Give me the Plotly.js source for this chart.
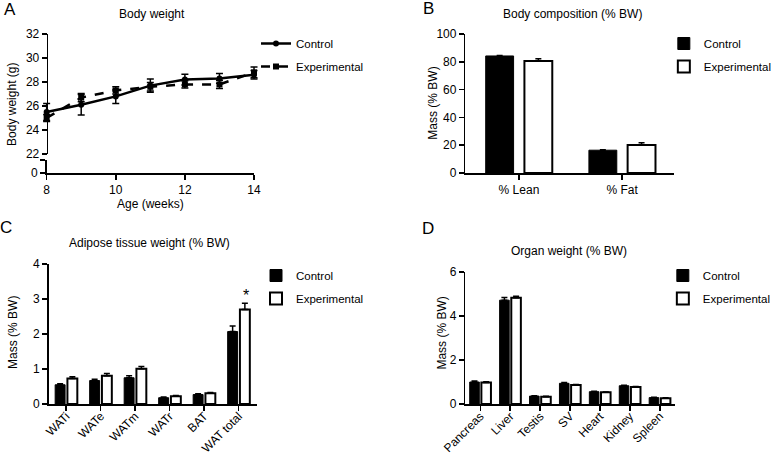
<!DOCTYPE html>
<html>
<head>
<meta charset="utf-8">
<script src="https://cdn.plot.ly/plotly-3.0.1.min.js"></script>
<style>html,body{margin:0;padding:0;background:#fff;}#chart{width:777px;height:454px;}</style>
</head>
<body>
<div id="chart"></div>
<script>
// ---------- DATA ----------
const ages = [8, 9, 10, 11, 12, 13, 14];
const bwControl = [25.5, 26.1, 26.8, 27.7, 28.2, 28.3, 28.6];
const bwControlErr = [0.7, 0.85, 0.6, 0.55, 0.45, 0.4, 0.35];
const bwExp = [25.0, 26.7, 27.3, 27.6, 27.8, 27.8, 28.8];
const bwExpErr = [0.3, 0.35, 0.3, 0.35, 0.3, 0.35, 0.45];

const compCats = ['% Lean', '% Fat'];
const compControl = [84.2, 16.4];
const compControlErr = [0.3, 0.3];
const compExp = [80.6, 20.2];
const compExpErr = [1.6, 1.5];

const adiposeCats = ['WATi', 'WATe', 'WATm', 'WATr', 'BAT', 'WAT total'];
const adiposeControl = [0.55, 0.67, 0.75, 0.18, 0.27, 2.07];
const adiposeControlErr = [0.03, 0.04, 0.06, 0.02, 0.02, 0.16];
const adiposeExp = [0.73, 0.81, 1.01, 0.22, 0.31, 2.70];
const adiposeExpErr = [0.05, 0.06, 0.06, 0.02, 0.02, 0.18];

const organCats = ['Pancreas', 'Liver', 'Testis', 'SV', 'Heart', 'Kidney', 'Spleen'];
const organControl = [1.0, 4.72, 0.36, 0.94, 0.56, 0.83, 0.29];
const organControlErr = [0.05, 0.12, 0.02, 0.04, 0.02, 0.02, 0.02];
const organExp = [0.98, 4.83, 0.33, 0.86, 0.53, 0.77, 0.26];
const organExpErr = [0.03, 0.07, 0.02, 0.03, 0.02, 0.02, 0.02];

const seriesNames = ['Control', 'Experimental'];

// ---------- HELPERS ----------
const W = 777, H = 454;
const px = p => p / W;
const py = p => 1 - p / H;
const FONT = 'Liberation Sans, Arial, Helvetica, sans-serif';
const zeros = a => a.map(() => 0);

const axisBase = {
  showline: true, linecolor: 'black', linewidth: 1.5,
  ticks: 'outside', ticklen: 5, tickwidth: 1.5, tickcolor: 'black',
  showgrid: false, zeroline: false,
  tickfont: {size: 12, color: 'black', family: FONT},
  fixedrange: true
};
const ax = o => Object.assign({}, axisBase, o);

function barPair(cats, c, ce, e, ee, xa, ya, leg, width, offC, offE) {
  return [
    {type: 'bar', name: seriesNames[0], x: cats, y: c, xaxis: xa, yaxis: ya, legend: leg,
     legendgroup: leg + 'c', width: width, offset: offC,
     marker: {color: 'black', line: {color: 'black', width: 1}},
     error_y: {type: 'data', array: ce, arrayminus: zeros(ce), symmetric: false, color: 'black', thickness: 1.5, width: 3}},
    {type: 'bar', name: seriesNames[1], x: cats, y: e, xaxis: xa, yaxis: ya, legend: leg,
     legendgroup: leg + 'e', width: width, offset: offE,
     marker: {color: 'white', line: {color: 'black', width: 2}},
     error_y: {type: 'data', array: ee, arrayminus: zeros(ee), symmetric: false, color: 'black', thickness: 1.5, width: 3}}
  ];
}

// ---------- TRACES ----------
const traces = [
  {type: 'scatter', mode: 'lines+markers', name: seriesNames[0], x: ages, y: bwControl,
   xaxis: 'x', yaxis: 'y', legend: 'legend', legendgroup: 'ac', cliponaxis: false,
   line: {color: 'black', width: 2.5}, marker: {symbol: 'circle', size: 6, color: 'black'},
   error_y: {type: 'data', array: bwControlErr, color: 'black', thickness: 1.5, width: 3.5}},
  {type: 'scatter', mode: 'lines+markers', name: seriesNames[1], x: ages, y: bwExp,
   xaxis: 'x', yaxis: 'y', legend: 'legend', legendgroup: 'ae', cliponaxis: false,
   line: {color: 'black', width: 2.5, dash: 'dash'}, marker: {symbol: 'square', size: 6, color: 'black'},
   error_y: {type: 'data', array: bwExpErr, color: 'black', thickness: 1.5, width: 3.5}},
  {type: 'scatter', x: [], y: [], xaxis: 'x2', yaxis: 'y2', showlegend: false, hoverinfo: 'skip'},
  ...barPair(compCats, compControl, compControlErr, compExp, compExpErr, 'x3', 'y3', 'legend2', 0.27, -0.322, 0.053),
  ...barPair(adiposeCats, adiposeControl, adiposeControlErr, adiposeExp, adiposeExpErr, 'x5', 'y5', 'legend3', 0.287, -0.32, 0.035),
  ...barPair(organCats, organControl, organControlErr, organExp, organExpErr, 'x7', 'y7', 'legend4', 0.32, -0.355, 0.035)
];

// ---------- LAYOUT ----------
const legendBase = {
  bgcolor: 'rgba(0,0,0,0)', borderwidth: 0, xanchor: 'left', yanchor: 'top',
  font: {size: 11.5, color: 'black', family: FONT}, traceorder: 'grouped', tracegroupgap: 4
};
const lg = (x, y) => Object.assign({}, legendBase, {x: px(x), y: py(y)});

const titleFont = {size: 12, color: 'black', family: FONT};
const ann = (text, x, y, size, angle) => ({text: text, xref: 'paper', yref: 'paper', x: px(x), y: py(y),
  xanchor: 'center', yanchor: 'middle', showarrow: false, textangle: angle || 0,
  font: {size: size, color: 'black', family: FONT}});

const layout = {
  width: W, height: H, margin: {l: 0, r: 0, t: 0, b: 0},
  paper_bgcolor: 'white', plot_bgcolor: 'rgba(0,0,0,0)',
  font: {family: FONT, size: 12, color: 'black'},
  barmode: 'group',
  // Panel A
  xaxis: {domain: [px(47 - 0.15 * 34.83), px(256 + 0.15 * 34.83)], range: [7.85, 14.15], anchor: 'y', visible: false, fixedrange: true},
  yaxis: ax({domain: [py(154), py(34)], range: [22, 32], dtick: 2, tick0: 22, anchor: 'free', position: px(47)}),
  xaxis2: ax({domain: [px(47), px(256)], range: [8, 14], tickvals: [8, 10, 12, 14], anchor: 'y2',
    title: {text: 'Age (weeks)', font: titleFont, standoff: 0}}),
  yaxis2: ax({domain: [py(173), py(160)], range: [0, 1], tickvals: [0, 1], ticktext: ['0', ''], anchor: 'x2'}),
  // Panel B
  xaxis3: ax({domain: [px(469), px(679)], range: [-0.519, 1.5], anchor: 'y3', type: 'category'}),
  yaxis3: ax({domain: [py(173), py(34)], range: [0, 100], dtick: 20, anchor: 'x3'}),
  // Panel C
  xaxis5: ax({domain: [px(49), px(259)], range: [-0.51, 5.53], anchor: 'y5', type: 'category', tickangle: -45, ticklabelstandoff: -6}),
  yaxis5: ax({domain: [py(404), py(264)], range: [0, 4], dtick: 1, anchor: 'x5'}),
  // Panel D
  xaxis7: ax({domain: [px(469), px(680)], range: [-0.5, 6.5], anchor: 'y7', type: 'category', tickangle: -45, ticklabelstandoff: -6}),
  yaxis7: ax({domain: [py(404), py(272)], range: [0, 6], dtick: 2, anchor: 'x7'}),
  legend: lg(258, 29),
  legend2: lg(669, 29),
  legend3: lg(258, 261),
  legend4: lg(668, 261),
  annotations: [
    ann('Body weight', 153, 14, 12),
    ann('Body composition (% BW)', 577, 14, 12),
    ann('Adipose tissue weight (% BW)', 151, 243, 12),
    ann('Organ weight (% BW)', 573, 251, 12),
    ann('Body weight (g)', 12, 104, 12, -90),
    ann('Mass (% BW)', 436, 103, 12, -90),
    ann('Mass (% BW)', 13, 332, 12, -90),
    ann('Mass (% BW)', 445, 333, 12, -90),
    ann('A', 10, 9, 17),
    ann('B', 432, 8, 17),
    ann('C', 6, 227, 17),
    ann('D', 431, 228, 17),
    {text: '*', xref: 'x5', yref: 'y5', x: adiposeCats[5], y: adiposeExp[5] + adiposeExpErr[5],
     xanchor: 'center', yanchor: 'bottom', xshift: 7, yshift: -3, showarrow: false,
     font: {size: 16, color: 'black', family: FONT}}
  ],
  showlegend: true
};

Plotly.newPlot('chart', traces, layout, {staticPlot: true, displayModeBar: false});
</script>
</body>
</html>
